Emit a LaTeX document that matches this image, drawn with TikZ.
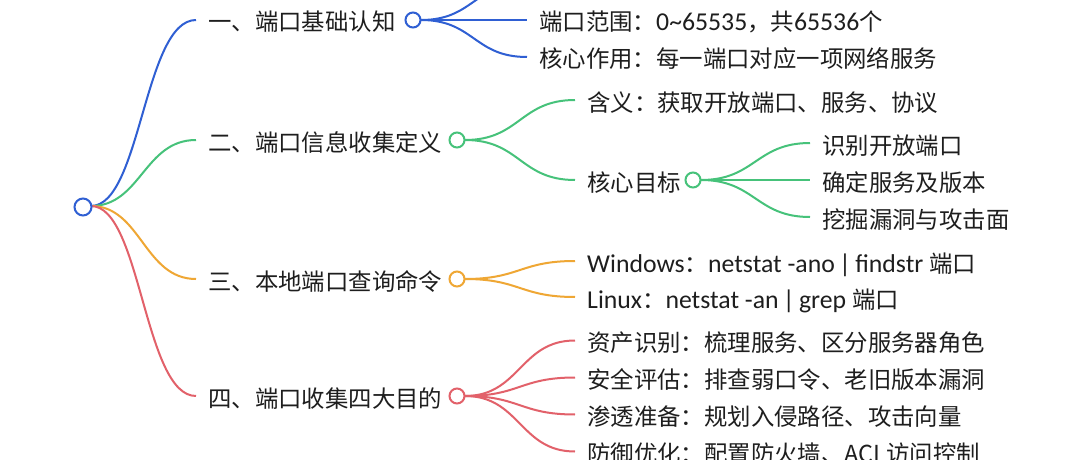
\documentclass[tikz,border=0pt]{standalone}
\usepackage{fontspec}
\setmainfont{Noto Sans CJK SC}
\newfontfamily\lat{Carlito}[Scale=1.1]
\definecolor{cblue}{HTML}{2F5FD3}
\definecolor{cgreen}{HTML}{46C27A}
\definecolor{corange}{HTML}{EFA734}
\definecolor{cred}{HTML}{E2616A}
\definecolor{ink}{HTML}{1E1E1E}
\tikzset{
  lbl/.style={anchor=west, inner xsep=12pt, inner ysep=0pt, text height=22pt, text depth=0pt,
              font=\fontsize{23.4}{28}\selectfont, text=ink},
  dot/.style={circle, draw=#1, fill=white, line width=2pt, minimum size=15pt, inner sep=0pt},
  br/.style={draw=#1, line width=2pt},
}
\begin{document}
\begin{tikzpicture}[x=1pt,y=-1pt]
\useasboundingbox (0,0) rectangle (1080,460);
\clip (0,0) rectangle (1080,460);
\fill[white] (0,0) rectangle (1080,460);

% level 1 texts
\node[lbl] (t1) at (196,20)  {一、端口基础认知};
\node[lbl] (t2) at (196,140) {二、端口信息收集定义};
\node[lbl] (t3) at (196,279) {三、本地端口查询命令};
\node[lbl] (t4) at (196,396) {四、端口收集四大目的};

% level 2 texts
\coordinate (b0) at (527,-17);
\node[lbl] (b1) at (527,20) {端口范围：{\lat 0\textasciitilde65535}，共{\lat 65536}个};
\node[lbl] (b2) at (527,57) {核心作用：每一端口对应一项网络服务};

\node[lbl] (g1) at (575,100) {含义：获取开放端口、服务、协议};
\node[lbl] (g2) at (575,180) {核心目标};
\node[lbl] (g21) at (810,143) {识别开放端口};
\node[lbl] (g22) at (810,180) {确定服务及版本};
\node[lbl] (g23) at (810,217) {挖掘漏洞与攻击面};

\node[lbl] (o1) at (575,261) {{\lat Windows}：{\lat netstat -ano\,|\,findstr }端口};
\node[lbl] (o2) at (575,297) {{\lat Linux}：{\lat netstat -an\,|\,grep }端口};

\node[lbl] (r1) at (575,340.5) {资产识别：梳理服务、区分服务器角色};
\node[lbl] (r2) at (575,377.5) {安全评估：排查弱口令、老旧版本漏洞};
\node[lbl] (r3) at (575,414.5) {渗透准备：规划入侵路径、攻击向量};
\node[lbl] (r4) at (575,451.5) {防御优化：配置防火墙、ACL访问控制};

% circles positions
\coordinate (rootc) at (83,207);
\coordinate (c1c) at (413,20);
\coordinate (c2c) at (457,140);
\coordinate (c22c) at (693,180);
\coordinate (c3c) at (457,279);
\coordinate (c4c) at (457,396);

% connectors (drawn first, circles on top)
\draw[br=cblue]   (rootc) ++(8,-1) coordinate (rs) .. controls +(50,0) and +(-52,0) .. (t1.west);
\draw[br=cgreen]  (rs) .. controls +(50,0) and +(-52,0) .. (t2.west);
\draw[br=corange] (rs) .. controls +(50,0) and +(-52,0) .. (t3.west);
\draw[br=cred]    (rs) .. controls +(50,0) and +(-52,0) .. (t4.west);

\draw[br=cblue] (c1c) ++(8,0) coordinate (s1) .. controls +(53,0) and +(-53,0) .. (b0);
\draw[br=cblue] (s1) -- (b1.west);
\draw[br=cblue] (s1) .. controls +(53,0) and +(-53,0) .. (b2.west);

\draw[br=cgreen] (c2c) ++(8,0) coordinate (s2) .. controls +(55,0) and +(-55,0) .. (g1.west);
\draw[br=cgreen] (s2) .. controls +(55,0) and +(-55,0) .. (g2.west);

\draw[br=cgreen] (c22c) ++(8,0) coordinate (s22) .. controls +(54,0) and +(-54,0) .. (g21.west);
\draw[br=cgreen] (s22) -- (g22.west);
\draw[br=cgreen] (s22) .. controls +(54,0) and +(-54,0) .. (g23.west);

\draw[br=corange] (c3c) ++(8,0) coordinate (s3) .. controls +(55,0) and +(-55,0) .. (o1.west);
\draw[br=corange] (s3) .. controls +(55,0) and +(-55,0) .. (o2.west);

\draw[br=cred] (c4c) ++(8,0) coordinate (s4) .. controls +(55,0) and +(-55,0) .. (r1.west);
\draw[br=cred] (s4) .. controls +(55,0) and +(-55,0) .. (r2.west);
\draw[br=cred] (s4) .. controls +(55,0) and +(-55,0) .. (r3.west);
\draw[br=cred] (s4) .. controls +(55,0) and +(-55,0) .. (r4.west);

% circles
\node[dot=cblue, minimum size=17pt] (root) at (rootc) {};
\node[dot=cblue]   (c1) at (c1c) {};
\node[dot=cgreen]  (c2) at (c2c) {};
\node[dot=cgreen]  (c22) at (c22c) {};
\node[dot=corange] (c3) at (c3c) {};
\node[dot=cred]    (c4) at (c4c) {};
\end{tikzpicture}
\end{document}
